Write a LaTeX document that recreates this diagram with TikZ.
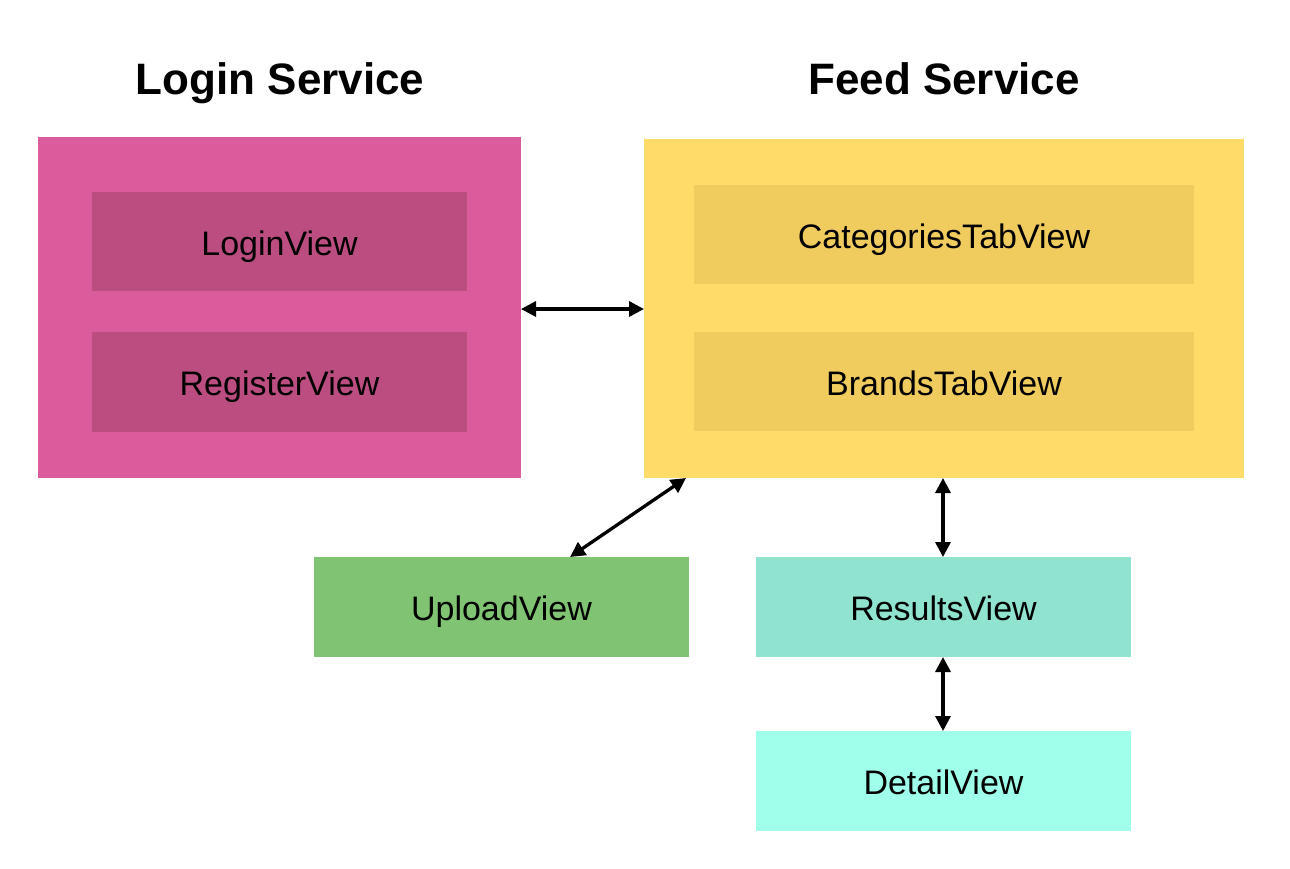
\documentclass[tikz,border=0pt]{standalone}
\usepackage{fontspec}
\setmainfont{Liberation Sans}
\usetikzlibrary{arrows.meta}
\definecolor{loginc}{HTML}{DA5C9C}
\definecolor{loginin}{HTML}{BB4D80}
\definecolor{feedc}{HTML}{FFDC69}
\definecolor{feedin}{HTML}{F0CC5E}
\definecolor{uploadc}{HTML}{80C473}
\definecolor{resultc}{HTML}{8FE3CF}
\definecolor{detailc}{HTML}{A0FFEA}
\tikzset{
  box/.style={draw=none, inner sep=0pt, outer sep=0pt, anchor=north west},
  label/.style={font=\fontsize{34}{40}\selectfont, text=black, anchor=base, inner sep=0pt},
  title/.style={font=\fontsize{44}{50}\selectfont\bfseries, text=black, anchor=base, inner sep=0pt},
  link/.style={line width=3.3pt, {Triangle[length=15pt,width=15pt]}-{Triangle[length=15pt,width=15pt]}}
}
\begin{document}
\begin{tikzpicture}[x=1pt,y=-1pt]
\useasboundingbox (0,0) rectangle (1290,868);
% titles
\node[title] (tlogin) at (280,94) {Login Service};
\node[title] (tfeed) at (944,94) {Feed Service};
% containers
\node[box, fill=loginc, minimum width=483pt, minimum height=341pt] (login) at (38,137) {};
\node[box, fill=feedc, minimum width=600pt, minimum height=339pt] (feed) at (644,139) {};
% inner views
\node[box, fill=loginin, minimum width=375pt, minimum height=99pt] (loginview) at (92,192) {};
\node[label] (tloginview) at (279.5,255) {LoginView};
\node[box, fill=loginin, minimum width=375pt, minimum height=100pt] (registerview) at (92,332) {};
\node[label] (tregisterview) at (279.5,395) {RegisterView};
\node[box, fill=feedin, minimum width=500pt, minimum height=99pt] (catview) at (694,185) {};
\node[label] (tcatview) at (944,248) {CategoriesTabView};
\node[box, fill=feedin, minimum width=500pt, minimum height=99pt] (brandview) at (694,332) {};
\node[label] (tbrandview) at (944,395) {BrandsTabView};
% lower views
\node[box, fill=uploadc, minimum width=375pt, minimum height=100pt] (upload) at (314,557) {};
\node[label] (tupload) at (501.5,620) {UploadView};
\node[box, fill=resultc, minimum width=375pt, minimum height=100pt] (results) at (756,557) {};
\node[label] (tresults) at (943.5,620) {ResultsView};
\node[box, fill=detailc, minimum width=375pt, minimum height=100pt] (detail) at (756,731) {};
\node[label] (tdetail) at (943.5,794) {DetailView};
% connectors
\coordinate (a1) at (login.east |- 0,309);
\coordinate (a2) at (feed.west |- 0,309);
\draw[link] (a1) -- (a2);
\coordinate (b1) at (686,478);
\coordinate (b2) at (570,557);
\draw[link] (b1) -- (b2);
\coordinate (c1) at (943,478);
\coordinate (c2) at (943,557);
\draw[link] (c1) -- (c2);
\coordinate (d1) at (943,657);
\coordinate (d2) at (943,731);
\draw[link] (d1) -- (d2);
\end{tikzpicture}
\end{document}
